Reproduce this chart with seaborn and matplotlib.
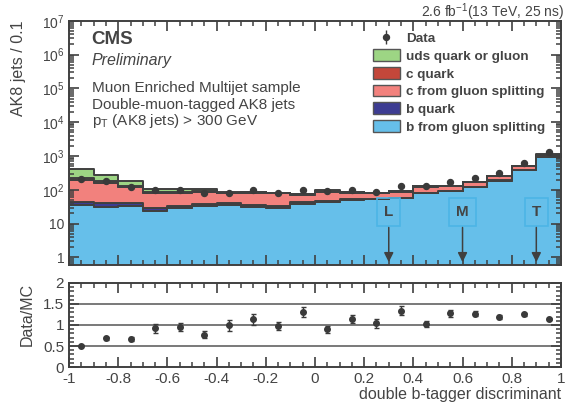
import numpy as np
import pandas as pd
import matplotlib
matplotlib.use("Agg")
import matplotlib.pyplot as plt
import seaborn as sns
from matplotlib.patches import Patch
from matplotlib.ticker import MultipleLocator, FixedLocator, FuncFormatter, LogLocator, NullFormatter

# bins of the double b-tagger discriminant
edges = np.linspace(-1, 1, 21)
centers = 0.5 * (edges[:-1] + edges[1:])

# MC components (jets per bin)
b_gsp = [35, 32, 34, 23, 30, 34, 36, 32, 30, 38, 43, 50, 53, 57, 80, 91, 122, 188, 386, 955]
b_quark = [8, 8, 8, 6, 4, 4, 4, 4, 4, 5, 3, 2, 2, 2, 2, 2, 2, 3, 4, 7]
c_gsp = [154, 121, 76, 52, 49, 47, 38, 45, 45, 29, 41, 31, 23, 30, 42, 35, 46, 67, 110, 133]
c_quark = [29, 25, 8, 6, 4, 5, 3, 4, 2, 2, 5, 3, 3, 3, 3, 3, 3, 4, 6, 13]
uds = [182, 86, 58, 22, 17, 17, 3, 4, 2, 2, 8, 3, 2, 3, 3, 3, 3, 3, 6, 9]

data = [208, 185, 123, 100, 100, 82, 83, 101, 81, 99, 90, 102, 86, 127, 133, 172, 224, 313, 640, 1273]
data_err = [8, 11, 9, 11, 10, 9, 10, 11, 8, 9, 8, 9, 8, 10, 9, 11, 12, 13, 20, 22]

labels = ["uds quark or gluon", "c quark", "c from gluon splitting", "b quark", "b from gluon splitting"]
colors = ["#9dd584", "#c4473a", "#f2817d", "#3d3c92", "#66bfea"]
wps = [("L", 0.3), ("M", 0.6), ("T", 0.9)]

comps = [uds, c_quark, c_gsp, b_quark, b_gsp]
df = pd.DataFrame({
    "disc": np.tile(centers, len(comps)),
    "jets": np.concatenate([np.array(c, float) for c in comps]),
    "process": np.repeat(labels, len(centers)),
})
total = np.sum([np.array(c, float) for c in comps], axis=0)
data = np.array(data, float)
data_err = np.array(data_err, float)

sns.set_style("ticks")
plt.rcParams["font.family"] = ["Liberation Sans", "DejaVu Sans"]
plt.rcParams["mathtext.fontset"] = "custom"
plt.rcParams["mathtext.rm"] = "Liberation Sans"
plt.rcParams["mathtext.it"] = "Liberation Sans:italic"
plt.rcParams["mathtext.bf"] = "Liberation Sans:bold"
dark = "#444444"
plt.rcParams["text.color"] = dark
plt.rcParams["axes.labelcolor"] = dark
plt.rcParams["axes.axisbelow"] = False

fig = plt.figure(figsize=(5.66, 4.07), dpi=100)
ax = fig.add_axes([0.122, 0.349, 0.869, 0.600])
ax2 = fig.add_axes([0.122, 0.098, 0.869, 0.207])

sns.histplot(data=df, x="disc", weights="jets", hue="process", hue_order=labels,
             multiple="stack", element="step", bins=edges.tolist(), palette=dict(zip(labels, colors)),
             alpha=1, edgecolor="#404040", linewidth=1.4, legend=False, ax=ax)
ax.set_yscale("log")
ymin = 0.6
ax.set_ylim(ymin, 1e7)
ax.set_xlim(-1, 1)

eb = ax.errorbar(centers, data, yerr=data_err, fmt="o", ms=4.3, color="#3a3a3a",
                 elinewidth=1, capsize=0, label="Data", zorder=5)

# working points
for name, xv in wps:
    ax.text(xv, 22, name, ha="center", va="center", fontsize=11, fontweight="bold", color=dark,
            bbox=dict(boxstyle="square,pad=0.45", fc="none", ec="#4cb5e6", lw=1.2))
    ax.annotate("", xy=(xv, ymin), xytext=(xv, 9.3),
                arrowprops=dict(arrowstyle="-|>", color="#404040", lw=1.1, mutation_scale=14))

ax.set_xlabel("")
ax.set_ylabel("AK8 jets / 0.1", fontsize=11.5, loc="top")
ax.yaxis.set_label_coords(-0.087, 1.0)


def ylab(v, pos):
    if v == 1:
        return "1"
    if v == 10:
        return "10"
    return "$10^{%d}$" % int(round(np.log10(v)))


ax.yaxis.set_major_locator(FixedLocator([1, 10, 1e2, 1e3, 1e4, 1e5, 1e6, 1e7]))
ax.yaxis.set_major_formatter(FuncFormatter(ylab))
ax.yaxis.set_minor_locator(LogLocator(base=10, subs=np.arange(2, 10), numticks=20))
ax.yaxis.set_minor_formatter(NullFormatter())
ax.xaxis.set_major_locator(MultipleLocator(0.2))
ax.xaxis.set_minor_locator(MultipleLocator(0.05))
ax.tick_params(axis="x", labelbottom=False)

for a, ls in ((ax, 10), (ax2, 11)):
    a.set_axisbelow(False)
    a.tick_params(which="both", direction="in", top=True, right=True, bottom=True, left=True,
                  labelsize=ls, color="#404040", labelcolor=dark)
    a.tick_params(which="major", length=7, width=1.2)
    a.tick_params(which="minor", length=3.5, width=1.1)
    for s in a.spines.values():
        s.set_color("#404040")
        s.set_linewidth(1.4)

handles = [eb] + [Patch(facecolor=c, edgecolor="#555555", lw=1) for c in colors]
leg = ax.legend(handles, ["Data"] + labels, loc="upper left", bbox_to_anchor=(0.607, 0.977),
                frameon=False, prop={"weight": "bold", "size": 9.7}, handlelength=2.0,
                handleheight=0.96, labelspacing=0.31, handletextpad=0.45, borderaxespad=0)

ax.text(0.046, 0.922, "CMS", transform=ax.transAxes, fontsize=13.5, fontweight="bold", va="center")
ax.text(0.046, 0.836, "Preliminary", transform=ax.transAxes, fontsize=11.5, style="italic", va="center")
ax.text(0.046, 0.725, "Muon Enriched Multijet sample", transform=ax.transAxes, fontsize=11, va="center")
ax.text(0.046, 0.655, "Double-muon-tagged AK8 jets", transform=ax.transAxes, fontsize=11, va="center")
ax.text(0.046, 0.59, r"p$_{\mathrm{T}}$ (AK8 jets) > 300 GeV", transform=ax.transAxes, fontsize=11, va="center")
fig.text(0.997, 0.971, r"2.6 fb$^{-1}$(13 TeV, 25 ns)", ha="right", va="center", fontsize=10)

# ratio panel
ratio = data / total
ratio_err = data_err / total
for yv in (0.5, 1.0, 1.5):
    ax2.axhline(yv, color="#555555", lw=1.1, zorder=1)
ax2.errorbar(centers, ratio, yerr=ratio_err, fmt="o", ms=4, color="#3a3a3a",
             elinewidth=1, capsize=1.8, capthick=1, zorder=5)
ax2.set_xlim(-1, 1)
ax2.set_ylim(0, 2)
ax2.xaxis.set_major_locator(MultipleLocator(0.2))
ax2.xaxis.set_minor_locator(MultipleLocator(0.05))
ax2.yaxis.set_major_locator(MultipleLocator(0.5))
ax2.yaxis.set_minor_locator(MultipleLocator(0.1))
ax2.xaxis.set_major_formatter(FuncFormatter(lambda v, p: "%g" % round(v, 1) if abs(v) > 1e-9 else "0"))
ax2.yaxis.set_major_formatter(FuncFormatter(lambda v, p: "%g" % v))
ax2.set_ylabel("Data/MC", fontsize=11.5, loc="top")
ax2.yaxis.set_label_coords(-0.069, 1.0)
ax2.set_xlabel("double b-tagger discriminant", fontsize=11.5, loc="right", labelpad=1)

fig.savefig("out.png", dpi=100)
